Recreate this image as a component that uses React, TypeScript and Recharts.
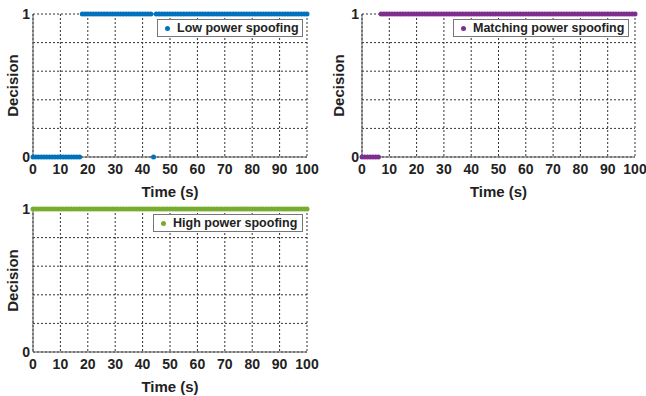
import { ScatterChart, Scatter, XAxis, YAxis, CartesianGrid, Legend } from "recharts";

const times = [
  0, 1, 2, 3, 4, 5, 6, 7, 8, 9,
  10, 11, 12, 13, 14, 15, 16, 17, 18, 19,
  20, 21, 22, 23, 24, 25, 26, 27, 28, 29,
  30, 31, 32, 33, 34, 35, 36, 37, 38, 39,
  40, 41, 42, 43, 44, 45, 46, 47, 48, 49,
  50, 51, 52, 53, 54, 55, 56, 57, 58, 59,
  60, 61, 62, 63, 64, 65, 66, 67, 68, 69,
  70, 71, 72, 73, 74, 75, 76, 77, 78, 79,
  80, 81, 82, 83, 84, 85, 86, 87, 88, 89,
  90, 91, 92, 93, 94, 95, 96, 97, 98, 99,
  100,
];

const lowPower = [
  0, 0, 0, 0, 0, 0, 0, 0, 0, 0,
  0, 0, 0, 0, 0, 0, 0, 0, 1, 1,
  1, 1, 1, 1, 1, 1, 1, 1, 1, 1,
  1, 1, 1, 1, 1, 1, 1, 1, 1, 1,
  1, 1, 1, 1, 0, 1, 1, 1, 1, 1,
  1, 1, 1, 1, 1, 1, 1, 1, 1, 1,
  1, 1, 1, 1, 1, 1, 1, 1, 1, 1,
  1, 1, 1, 1, 1, 1, 1, 1, 1, 1,
  1, 1, 1, 1, 1, 1, 1, 1, 1, 1,
  1, 1, 1, 1, 1, 1, 1, 1, 1, 1,
  1,
];

const matchingPower = [
  0, 0, 0, 0, 0, 0, 0, 1, 1, 1,
  1, 1, 1, 1, 1, 1, 1, 1, 1, 1,
  1, 1, 1, 1, 1, 1, 1, 1, 1, 1,
  1, 1, 1, 1, 1, 1, 1, 1, 1, 1,
  1, 1, 1, 1, 1, 1, 1, 1, 1, 1,
  1, 1, 1, 1, 1, 1, 1, 1, 1, 1,
  1, 1, 1, 1, 1, 1, 1, 1, 1, 1,
  1, 1, 1, 1, 1, 1, 1, 1, 1, 1,
  1, 1, 1, 1, 1, 1, 1, 1, 1, 1,
  1, 1, 1, 1, 1, 1, 1, 1, 1, 1,
  1,
];

const highPower = [
  1, 1, 1, 1, 1, 1, 1, 1, 1, 1,
  1, 1, 1, 1, 1, 1, 1, 1, 1, 1,
  1, 1, 1, 1, 1, 1, 1, 1, 1, 1,
  1, 1, 1, 1, 1, 1, 1, 1, 1, 1,
  1, 1, 1, 1, 1, 1, 1, 1, 1, 1,
  1, 1, 1, 1, 1, 1, 1, 1, 1, 1,
  1, 1, 1, 1, 1, 1, 1, 1, 1, 1,
  1, 1, 1, 1, 1, 1, 1, 1, 1, 1,
  1, 1, 1, 1, 1, 1, 1, 1, 1, 1,
  1, 1, 1, 1, 1, 1, 1, 1, 1, 1,
  1,
];

const xTicks = [0, 10, 20, 30, 40, 50, 60, 70, 80, 90, 100];
const yTicks = [0, 0.2, 0.4, 0.6, 0.8, 1];

const FONT = "'Liberation Sans', Arial, sans-serif";
const tickStyle = { fontSize: 14, fontWeight: 700, fill: "#222", fontFamily: FONT };

type PanelProps = {
  name: string;
  values: number[];
  color: string;
  left: number;
  top: number;
  width: number;
  yAxisWidth: number;
  legendLeft: number;
  legendWidth: number;
};

function Panel({ name, values, color, left, top, width, yAxisWidth, legendLeft, legendWidth }: PanelProps) {
  const data = times.map((t, i) => ({ time: t, decision: values[i] }));
  return (
    <div style={{ position: "absolute", left, top }}>
      <ScatterChart width={width} height={200} margin={{ top: 14, right: width === 320 ? 13 : 11, bottom: 0, left: 0 }}>
        <CartesianGrid stroke="#333" strokeDasharray="2 2" />
        <XAxis
          type="number"
          dataKey="time"
          domain={[0, 100]}
          ticks={xTicks}
          interval={0}
          height={43}
          stroke="#555"
          tickLine={false}
          tick={tickStyle}
          tickSize={5}
          label={{ value: "Time (s)", position: "insideBottom", offset: 3, style: { fontSize: 15, fontWeight: 700, fill: "#222", fontFamily: FONT } }}
        />
        <YAxis
          type="number"
          dataKey="decision"
          domain={[0, 1]}
          ticks={yTicks}
          interval={0}
          width={yAxisWidth}
          stroke="#555"
          tickLine={false}
          tickSize={3}
          tickMargin={0}
          tick={tickStyle}
          tickFormatter={(v: number) => (v === 0 || v === 1 ? String(v) : "")}
          label={{ value: "Decision", angle: -90, position: "center", dx: yAxisWidth === 33 ? -4 : -2, style: { fontSize: 15, fontWeight: 700, fill: "#222", fontFamily: FONT, textAnchor: "middle" } }}
        />
        <Legend
          layout="horizontal"
          verticalAlign="middle"
          wrapperStyle={{ left: legendLeft, top: 19, width: legendWidth, height: 18 }}
          content={() => (
            <div
              style={{
                boxSizing: "border-box",
                width: legendWidth,
                height: 18,
                border: "1px solid #777",
                background: "#fff",
                display: "flex",
                alignItems: "center",
                fontFamily: FONT,
                fontSize: 12.5,
                fontWeight: 700,
                color: "#222",
                whiteSpace: "nowrap",
              }}
            >
              <span style={{ display: "inline-block", flex: "0 0 5px", width: 5, height: 5, borderRadius: 3, background: color, marginLeft: 7, marginRight: 7 }} />
              {name}
            </div>
          )}
        />
        <Scatter
          name={name}
          data={data}
          fill={color}
          isAnimationActive={false}
          shape={(p: any) => <circle cx={p.cx} cy={p.cy} r={2.5} fill={color} />}
        />
      </ScatterChart>
    </div>
  );
}

export default function App() {
  return (
    <div style={{ position: "absolute", left: 0, top: 0, width: 646, height: 396, background: "#fff" }}>
      <Panel name="Low power spoofing" values={lowPower} color="#0072BD" left={0} top={0} width={320} yAxisWidth={33} legendLeft={157} legendWidth={146} />
      <Panel name="Matching power spoofing" values={matchingPower} color="#7E2F8E" left={320} top={0} width={326} yAxisWidth={42} legendLeft={133} legendWidth={176} />
      <Panel name="High power spoofing" values={highPower} color="#77AC30" left={0} top={195} width={320} yAxisWidth={33} legendLeft={153} legendWidth={150} />
    </div>
  );
}
